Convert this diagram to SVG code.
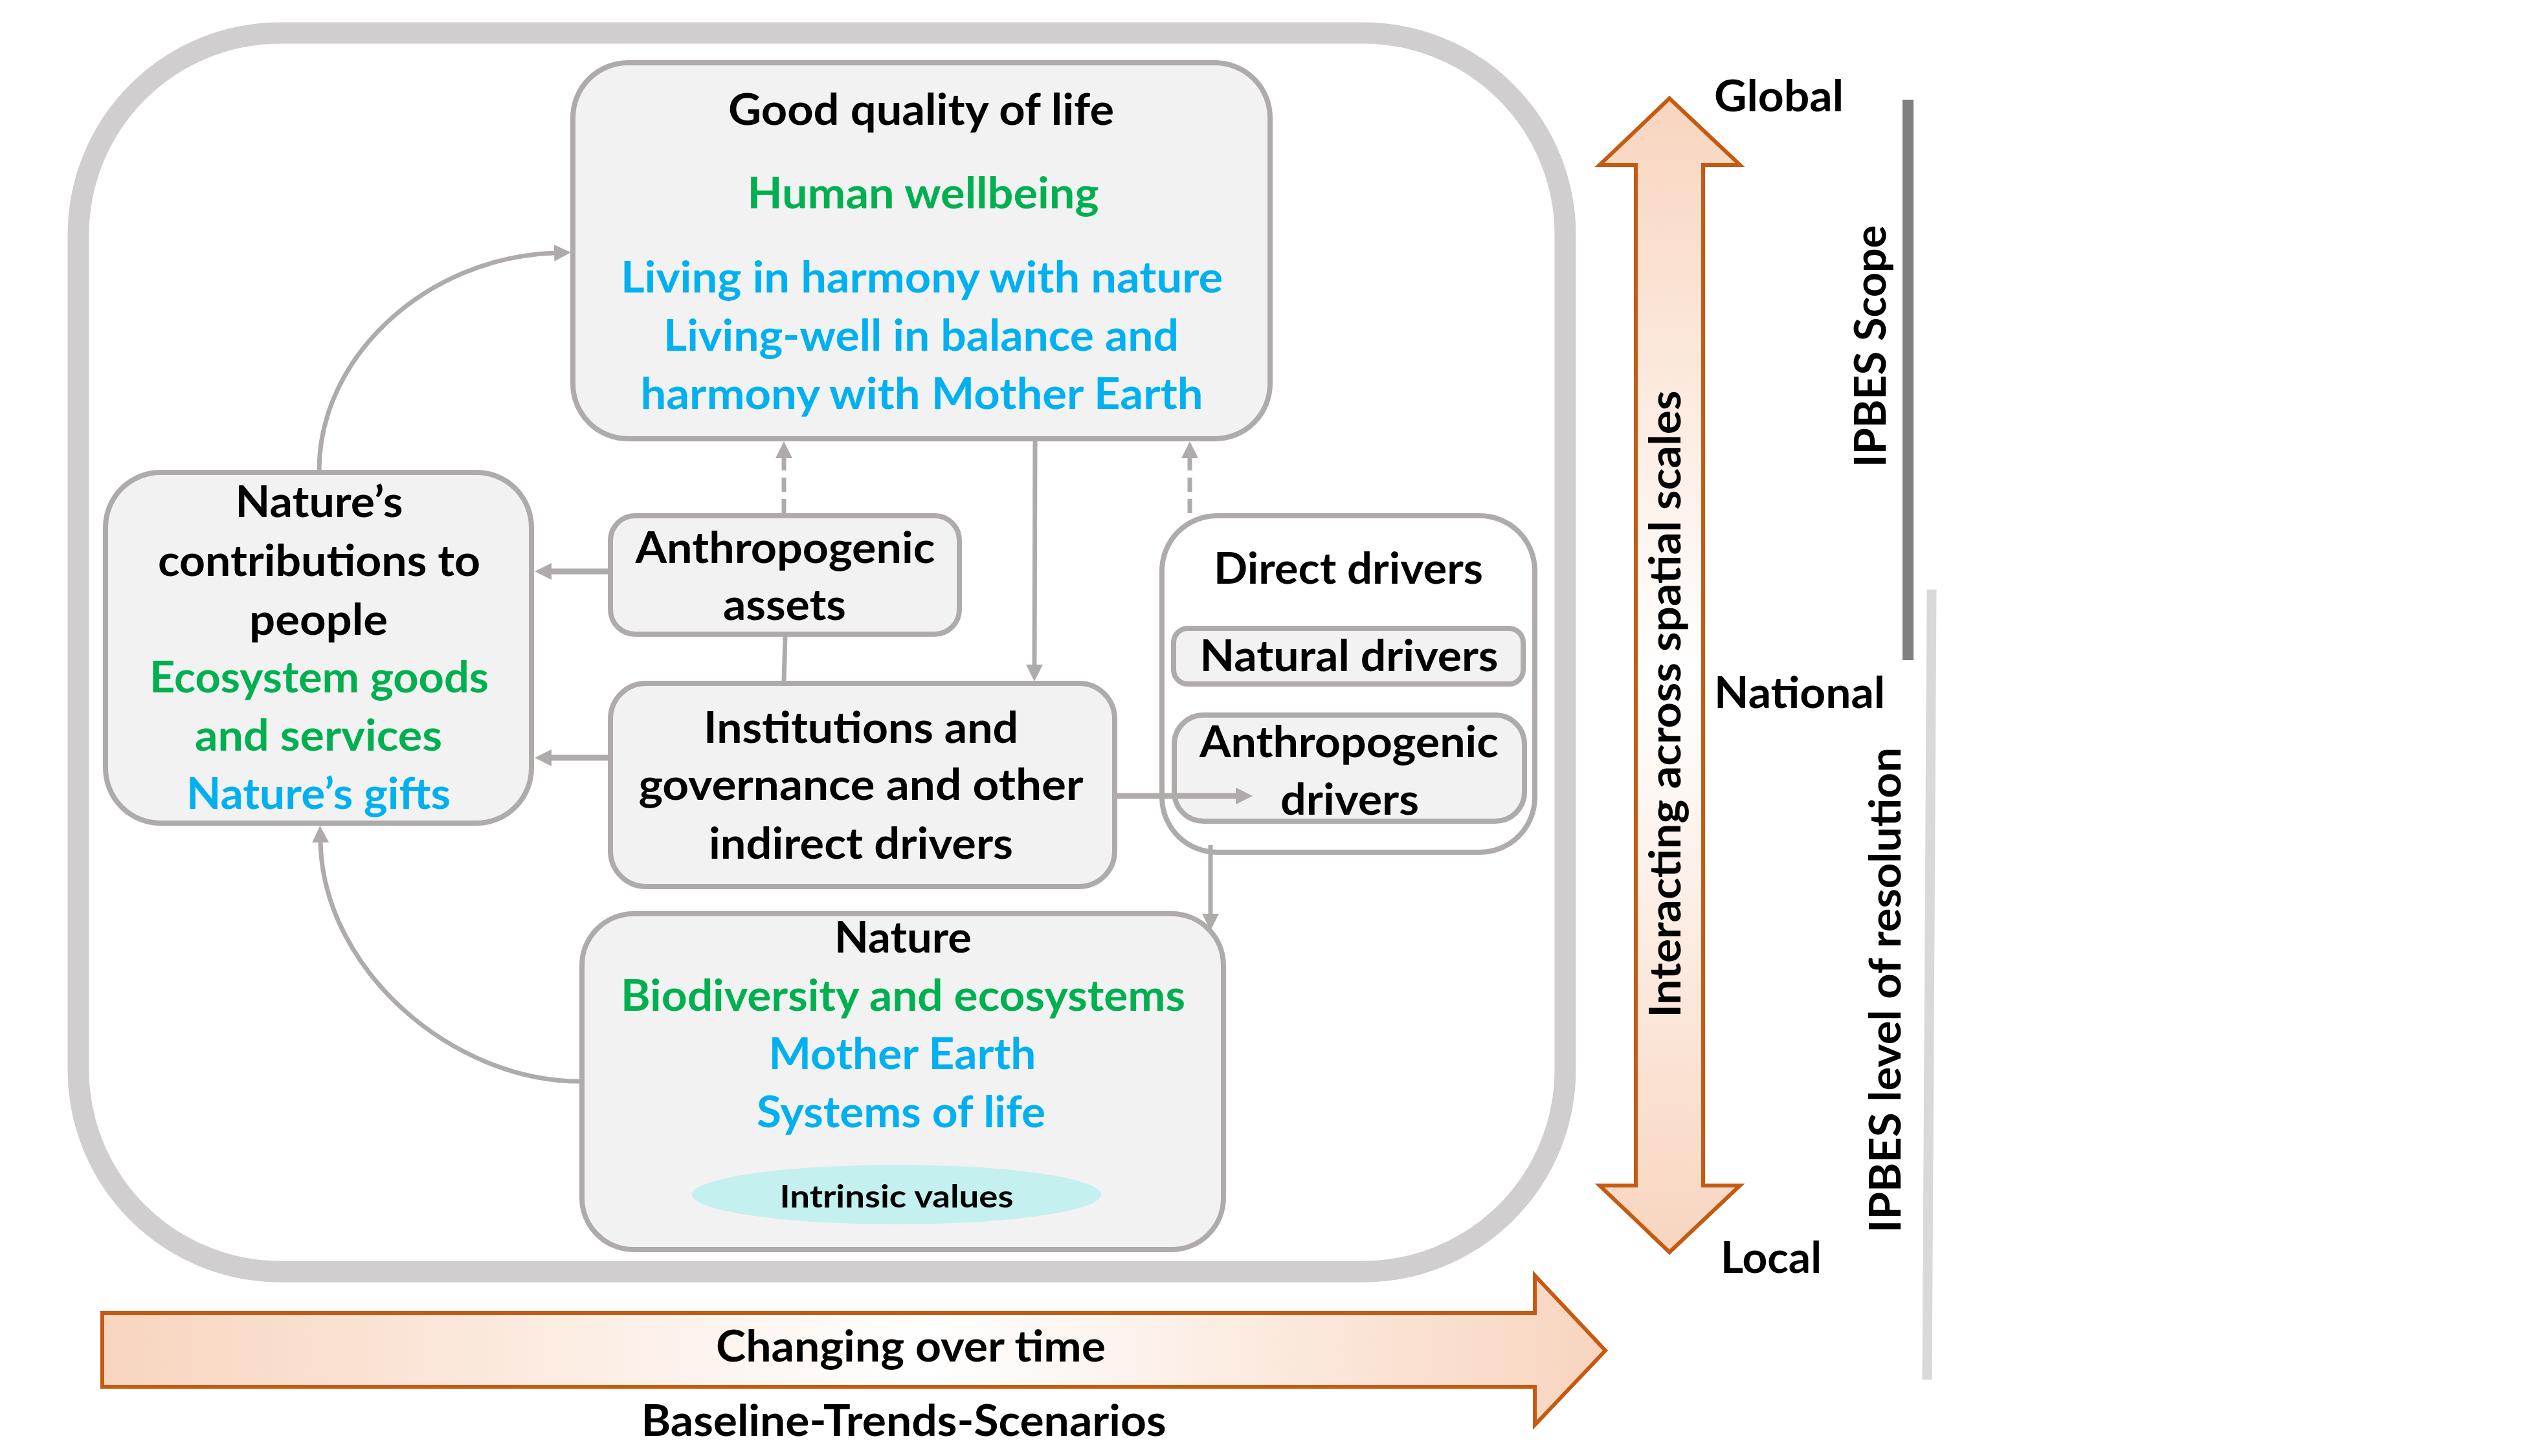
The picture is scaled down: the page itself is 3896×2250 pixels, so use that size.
<svg xmlns="http://www.w3.org/2000/svg" width="3896" height="2250" viewBox="0 0 3896 2250">
<style>
.box{fill:#F2F2F2;stroke:#AFABAB;stroke-width:8}
.t{font-family:Lato,"Open Sans","Liberation Sans",sans-serif;font-weight:700;font-size:67px;text-anchor:middle;fill:#000}
.g{fill:#00B050}
.b{fill:#00B0F0}
.c{fill:none;stroke:#AFABAB;stroke-width:7}
.w{stroke-width:9}
.d{stroke-dasharray:22 11}
.o{stroke:#C55A11;stroke-width:6;stroke-linejoin:miter}
</style>
<defs>
<marker id="ah" markerUnits="userSpaceOnUse" markerWidth="26" markerHeight="26" viewBox="0 0 26 26" refX="0" refY="13" orient="auto"><path d="M0,0L26,13L0,26z" fill="#AFABAB"/></marker>
<linearGradient id="gv" x1="0" y1="0" x2="0" y2="1"><stop offset="0" stop-color="#F8D5BF"/><stop offset="0.5" stop-color="#FFFFFF"/><stop offset="1" stop-color="#F8D5BF"/></linearGradient>
<linearGradient id="gh" x1="0" y1="0" x2="1" y2="0"><stop offset="0" stop-color="#F8D5BF"/><stop offset="0.55" stop-color="#FFFFFF"/><stop offset="1" stop-color="#F8D5BF"/></linearGradient>
</defs>
<rect width="3896" height="2250" fill="#FFFFFF"/>
<g id="frame"><rect x="121" y="51" width="2297" height="1914" rx="312" fill="none" stroke="#D0CECE" stroke-width="33"/></g>

<g id="good-quality-of-life">
<rect class="box" x="885" y="97" width="1077" height="581" rx="85"/>
<text class="t" x="1423" y="193" textLength="596" lengthAdjust="spacingAndGlyphs">Good quality of life</text>
<text class="t g" x="1426" y="322" textLength="543" lengthAdjust="spacingAndGlyphs">Human wellbeing</text>
<text class="t b" x="1424" y="452" textLength="930" lengthAdjust="spacingAndGlyphs">Living in harmony with nature</text>
<text class="t b" x="1423" y="542" textLength="796" lengthAdjust="spacingAndGlyphs">Living-well in balance and</text>
<text class="t b" x="1424" y="632" textLength="869" lengthAdjust="spacingAndGlyphs">harmony with Mother Earth</text>
</g>

<g id="natures-contributions">
<rect class="box" x="163" y="730" width="658" height="542" rx="85"/>
<text class="t" x="493" y="799" textLength="259" lengthAdjust="spacingAndGlyphs">Nature’s</text>
<text class="t" x="493" y="890" textLength="498" lengthAdjust="spacingAndGlyphs">contributions to</text>
<text class="t" x="492" y="981" textLength="214" lengthAdjust="spacingAndGlyphs">people</text>
<text class="t g" x="493" y="1070" textLength="524" lengthAdjust="spacingAndGlyphs">Ecosystem goods</text>
<text class="t g" x="492" y="1160" textLength="382" lengthAdjust="spacingAndGlyphs">and services</text>
<text class="t b" x="492" y="1250" textLength="408" lengthAdjust="spacingAndGlyphs">Nature’s gifts</text>
</g>

<g id="anthropogenic-assets">
<rect class="box" x="943" y="797" width="539" height="183" rx="38"/>
<text class="t" x="1213" y="870" textLength="463" lengthAdjust="spacingAndGlyphs">Anthropogenic</text>
<text class="t" x="1212" y="958" textLength="190" lengthAdjust="spacingAndGlyphs">assets</text>
</g>

<g id="institutions">
<rect class="box" x="943" y="1056" width="779" height="314" rx="55"/>
<text class="t" x="1330" y="1148" textLength="486" lengthAdjust="spacingAndGlyphs">Institutions and</text>
<text class="t" x="1330" y="1236" textLength="687" lengthAdjust="spacingAndGlyphs">governance and other</text>
<text class="t" x="1330" y="1327" textLength="470" lengthAdjust="spacingAndGlyphs">indirect drivers</text>
</g>

<g id="direct-drivers">
<rect class="box" x="1795" y="797" width="576" height="520" rx="85" style="fill:#FFFFFF"/>
<text class="t" x="2083" y="902" textLength="416" lengthAdjust="spacingAndGlyphs">Direct drivers</text>
</g>
<g id="natural-drivers">
<rect class="box" x="1813" y="971" width="540" height="86" rx="22"/>
<text class="t" x="2084" y="1037" textLength="461" lengthAdjust="spacingAndGlyphs">Natural drivers</text>
</g>
<g id="anthropogenic-drivers">
<rect class="box" x="1814" y="1105" width="541" height="164" rx="45"/>
<text class="t" x="2084" y="1170" textLength="462" lengthAdjust="spacingAndGlyphs">Anthropogenic</text>
<text class="t" x="2085" y="1259" textLength="214" lengthAdjust="spacingAndGlyphs">drivers</text>
</g>

<g id="nature">
<rect class="box" x="899" y="1412" width="991" height="519" rx="80"/>
<text class="t" x="1395" y="1472" textLength="212" lengthAdjust="spacingAndGlyphs">Nature</text>
<text class="t g" x="1395" y="1562" textLength="872" lengthAdjust="spacingAndGlyphs">Biodiversity and ecosystems</text>
<text class="t b" x="1394" y="1652" textLength="413" lengthAdjust="spacingAndGlyphs">Mother Earth</text>
<text class="t b" x="1392" y="1742" textLength="446" lengthAdjust="spacingAndGlyphs">Systems of life</text>
<ellipse cx="1385" cy="1846" rx="316" ry="46" fill="#C5F0F0"/>
<text class="t" x="1385" y="1866" style="font-size:48px" textLength="361" lengthAdjust="spacingAndGlyphs">Intrinsic values</text>
</g>

<g id="connectors">
<path class="c" d="M493,727 C493,550 660,398 856,391" marker-end="url(#ah)"/>
<path class="c" d="M896,1671 C700,1671 500,1500 495,1302" marker-end="url(#ah)"/>
<path class="c w" d="M939,883 H852" marker-end="url(#ah)"/>
<path class="c w" d="M939,1171 H852" marker-end="url(#ah)"/>
<path class="c w" d="M1726,1230 H1909" marker-end="url(#ah)"/>
<path class="c" d="M1870,1306 V1412" marker-end="url(#ah)"/>
<path class="c" d="M1599,682 L1598,1027" marker-end="url(#ah)"/>
<path class="c d" d="M1211,793 V708" marker-end="url(#ah)"/>
<path class="c d" d="M1838,793 V708" marker-end="url(#ah)"/>
<path class="c" d="M1213,984 L1211,1052"/>
</g>

<g id="spatial-scales">
<path class="o" fill="url(#gv)" d="M2579,152 L2688,255 L2631,255 L2631,1832 L2688,1832 L2579,1935 L2471,1832 L2527,1832 L2527,255 L2471,255 Z"/>
<text class="t" transform="translate(2596,1088) rotate(-90)" x="0" y="0" textLength="969" lengthAdjust="spacingAndGlyphs">Interacting across spatial scales</text>
<text class="t" x="2748" y="172" textLength="200" lengthAdjust="spacingAndGlyphs">Global</text>
<text class="t" x="2780" y="1094" textLength="264" lengthAdjust="spacingAndGlyphs">National</text>
<text class="t" x="2736" y="1967" textLength="156" lengthAdjust="spacingAndGlyphs">Local</text>
</g>

<g id="ipbes-scope">
<rect x="2939" y="154" width="17" height="866" fill="#808080"/>
<text class="t" transform="translate(2913,535) rotate(-90)" x="0" y="0" textLength="374" lengthAdjust="spacingAndGlyphs">IPBES Scope</text>
</g>
<g id="ipbes-resolution">
<path d="M2984,911 L2977,2132" stroke="#D9D9D9" stroke-width="15"/>
<text class="t" transform="translate(2936,1530) rotate(-90)" x="0" y="0" textLength="750" lengthAdjust="spacingAndGlyphs">IPBES level of resolution</text>
</g>

<g id="time">
<path class="o" fill="url(#gh)" d="M158,2029 L2371,2029 L2371,1971 L2480,2087 L2371,2202 L2371,2143 L158,2143 Z"/>
<text class="t" x="1407" y="2104" textLength="602" lengthAdjust="spacingAndGlyphs">Changing over time</text>
<text class="t" x="1396" y="2219" textLength="811" lengthAdjust="spacingAndGlyphs">Baseline-Trends-Scenarios</text>
</g>
</svg>
